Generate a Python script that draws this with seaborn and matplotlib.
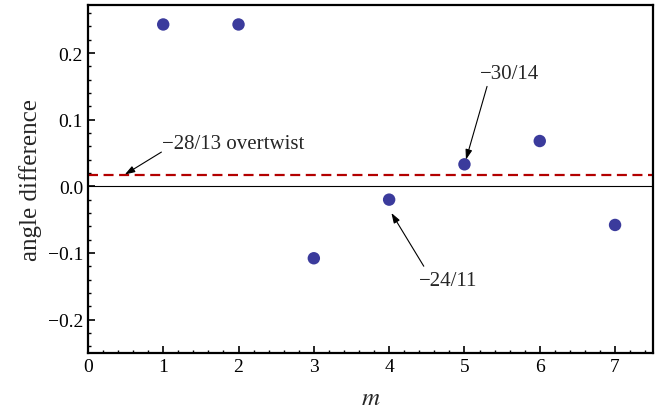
import matplotlib
matplotlib.use("Agg")
import matplotlib.pyplot as plt
import numpy as np
import pandas as pd
import seaborn as sns
from matplotlib.ticker import MultipleLocator, AutoMinorLocator

# data
m = [1, 2, 3, 4, 5, 6, 7]
angle_diff = [0.243, 0.243, -0.108, -0.020, 0.033, 0.068, -0.058]
overtwist = 0.0177

df = pd.DataFrame({"m": m, "angle difference": angle_diff})

sns.set_style("ticks")
plt.rcParams['font.family'] = ['Liberation Serif', 'DejaVu Serif']
plt.rcParams['mathtext.fontset'] = 'stix'

fig, ax = plt.subplots(figsize=(6.56, 4.1), dpi=100)
fig.subplots_adjust(left=0.134, right=0.995, top=0.985, bottom=0.137)

ax.axhline(0, color="black", lw=0.8, zorder=1)
ax.axhline(overtwist, color="#b30000", lw=1.6, ls=(0, (4.5, 2.5)), zorder=2)

sns.scatterplot(data=df, x="m", y="angle difference", ax=ax, s=80,
                color="#3b3b9c", edgecolor="none", zorder=3)

# annotations
akw = dict(arrowstyle="-|>,head_length=0.6,head_width=0.2", color="black", lw=0.8,
           shrinkA=0, shrinkB=0)
ax.text(0.99, 0.064, "−28/13 overtwist", fontsize=15, ha="left", va="center")
ax.annotate("", xy=(0.49, overtwist), xytext=(0.976, 0.0514), arrowprops=akw)
ax.text(5.6, 0.17, "−30/14", fontsize=15, ha="center", va="center")
ax.annotate("", xy=(5.02, 0.040), xytext=(5.30, 0.150), arrowprops=akw)
ax.text(4.78, -0.141, "−24/11", fontsize=15, ha="center", va="center")
ax.annotate("", xy=(4.03, -0.040), xytext=(4.46, -0.120), arrowprops=akw)

ax.set_xlim(0, 7.5)
ax.set_ylim(-0.25, 0.272)
ax.xaxis.set_major_locator(MultipleLocator(1))
ax.xaxis.set_minor_locator(AutoMinorLocator(5))
ax.yaxis.set_major_locator(MultipleLocator(0.1))
ax.yaxis.set_minor_locator(AutoMinorLocator(5))
ax.set_yticks([-0.2, -0.1, 0.0, 0.1, 0.2])
ax.set_yticklabels(["−0.2", "−0.1", "0.0", "0.1", "0.2"])
ax.tick_params(which="both", direction="in", colors="black", labelsize=14,
               top=False, right=False)
ax.tick_params(which="major", length=5, width=1.2)
ax.tick_params(which="minor", length=2.5, width=1.0)
for sp in ax.spines.values():
    sp.set_linewidth(1.6)
    sp.set_color("black")

ax.set_xlabel("$m$", fontsize=18, labelpad=9)
ax.set_ylabel("angle difference", fontsize=18, labelpad=4)

fig.savefig("out.png", dpi=100)
